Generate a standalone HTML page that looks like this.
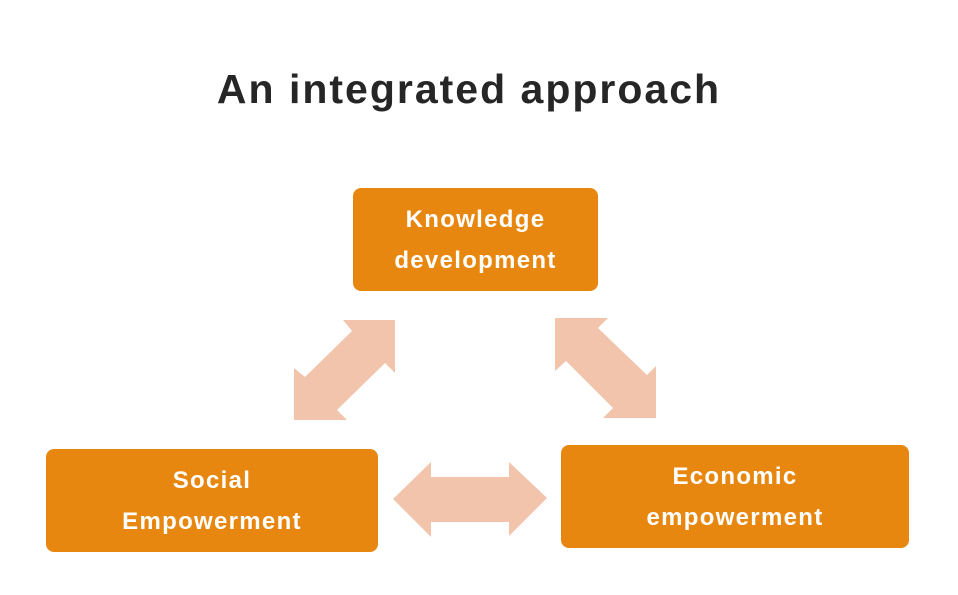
<!DOCTYPE html>
<html><head><style>
body{margin:0;width:958px;height:595px;background:#fff;position:relative;overflow:hidden;font-family:"Liberation Sans",sans-serif}
.t{position:absolute;left:0;width:938px;top:66px;text-align:center;font-size:41px;font-weight:bold;color:#262626;letter-spacing:2px;white-space:nowrap}
.b{position:absolute;background:#E8870F;border-radius:8px;color:#fff;font-weight:bold;font-size:24px;letter-spacing:1.3px;display:flex;align-items:center;justify-content:center;text-align:center;line-height:41px}
svg{position:absolute;left:0;top:0}
</style></head><body>
<div class="t">An integrated approach</div>
<svg width="958" height="595">
<g fill="#F2C4AC">
<polygon points="395,320 395,373 385,363 337,410 347,420 294,420 294,368 305,377 352,331 343,320"/>
<polygon points="555,318 608,318 598,328 647,375 656,366 656,418 603,418 613,408 566,361 555,371"/>
<polygon points="393,499 431,462 431,477 509,477 509,462 547,498 509,536 509,522 431,522 431,537"/>
</g></svg>
<div class="b" style="left:353px;top:188px;width:245px;height:103px">Knowledge<br>development</div>
<div class="b" style="left:46px;top:449px;width:332px;height:103px">Social<br>Empowerment</div>
<div class="b" style="left:561px;top:445px;width:348px;height:103px">Economic<br>empowerment</div>
</body></html>
